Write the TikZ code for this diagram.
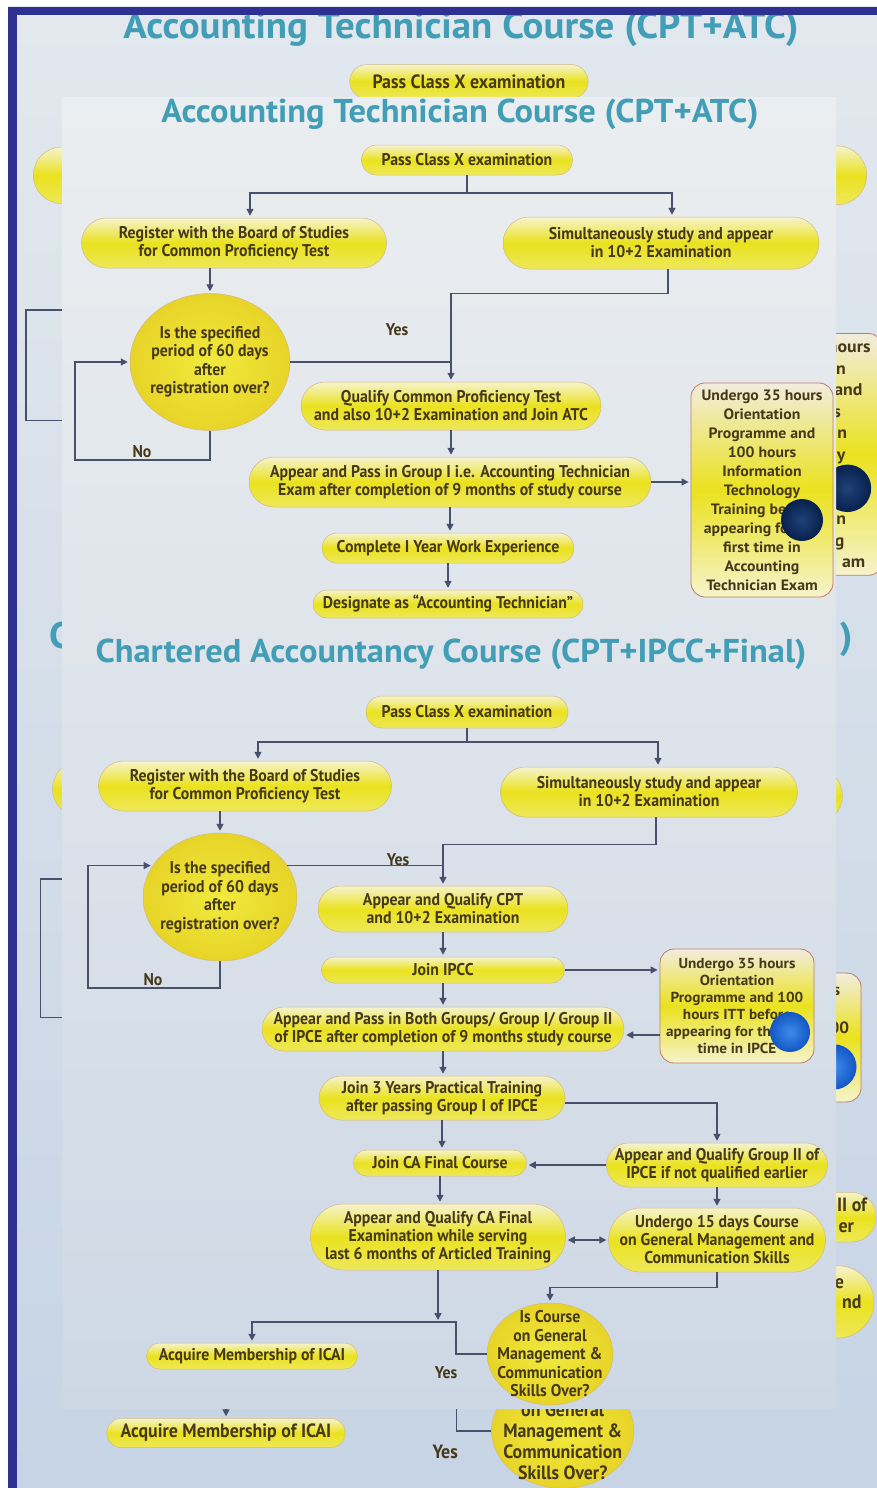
\documentclass[tikz,border=0pt]{standalone}
\usepackage{fontspec}
\setmainfont{PT Sans}
\newfontfamily\condf{PT Sans}[FakeStretch=0.93]
\newfontfamily\ttlf{PT Sans}[FakeStretch=1.045]
\newfontfamily\tallf{PT Sans}[FakeStretch=1.05]
\usetikzlibrary{shapes.misc,shapes.geometric,arrows.meta,calc}
\definecolor{txt}{RGB}{70,56,26}
\definecolor{lin}{RGB}{72,80,108}
\definecolor{ttl}{RGB}{66,158,182}
\definecolor{yel}{RGB}{234,226,30}
\definecolor{yeltop}{RGB}{246,243,205}
\definecolor{yeltoptall}{RGB}{242,236,222}
\definecolor{yelbot}{RGB}{238,232,90}
\definecolor{yelin}{RGB}{240,234,60}
\definecolor{yelout}{RGB}{232,212,40}
\definecolor{rim}{RGB}{210,186,135}
\definecolor{rimtall}{RGB}{190,125,105}
\definecolor{framecol}{RGB}{46,48,146}
\definecolor{bgtop}{RGB}{226,232,238}
\definecolor{bgbot}{RGB}{198,212,229}
\definecolor{pantop}{RGB}{235,238,240}
\definecolor{panbot}{RGB}{206,216,229}
\definecolor{navyin}{RGB}{30,66,120}
\definecolor{navyout}{RGB}{8,32,76}
\definecolor{bluein}{RGB}{60,140,235}
\definecolor{blueout}{RGB}{20,86,196}
\newif\ifbgmode
\makeatletter
\newcommand\hid{\ifbgmode\expandafter\@gobble\else\expandafter\@firstofone\fi}
\makeatother
\newcommand\phbg[1]{\ifbgmode\phantom{#1}\else#1\fi}
\tikzset{
  pill/.style={rounded rectangle, draw=rim, line width=0.5pt, top color=yeltop, bottom color=yelbot, middle color=yel, text=txt, align=center, font=\condf\bfseries\fontsize{17}{18}\selectfont, inner sep=0pt},
  tallbox/.style={rectangle, rounded corners=14pt, draw=rimtall, line width=0.8pt, top color=yeltoptall, bottom color=yeltop, middle color=yel, text=txt, align=center, font=\tallf\bfseries\fontsize{15}{19}\selectfont, inner sep=0pt},
  decide/.style={ellipse, inner sep=-12pt, draw=rim, line width=0.5pt, inner color=yelin, outer color=yelout, text=txt, align=center, font=\condf\bfseries\fontsize{17}{18.5}\selectfont},
  arr/.style={draw=lin, line width=1.4pt, -{Triangle[length=7pt,width=7pt]}, shorten >=2pt},
  dbl/.style={draw=lin, line width=1.4pt, {Triangle[length=7pt,width=7pt]}-{Triangle[length=7pt,width=7pt]}, shorten >=2pt, shorten <=2pt},
  ln/.style={draw=lin, line width=1.4pt},
  lbl/.style={text=txt, font=\condf\bfseries\fontsize{17}{18}\selectfont, inner sep=0pt},
  ttlstyle/.style={text=ttl, font=\ttlf\bfseries\fontsize{33}{36}\selectfont, inner sep=0pt, anchor=base},
  blobnavy/.style={inner color=navyin, outer color=navyout},
  blobblue/.style={inner color=bluein, outer color=blueout},
}
\newcommand\mydiagram{%
\node[ttlstyle] (t1) at (460,122) {Accounting Technician Course (CPT+ATC)};
\node[pill, minimum width=211pt, minimum height=30pt] (a1) at (467,160) {Pass Class X examination};
\node[pill, minimum width=305pt, minimum height=50pt] (a2) at (234,243) {\hid{Register with the Board of Studies\\for Common Proficiency Test}};
\node[pill, minimum width=316pt, minimum height=52pt] (a3) at (661,243) {\hid{Simultaneously study and appear\\in 10+2 Examination}};
\node[decide, minimum width=160pt, minimum height=137pt] (a4) at (210,362) {\hid{Is the specified\\period of 60 days\\after\\registration over?}};
\node[pill, minimum width=300pt, minimum height=48pt] (a5) at (451,406) {\hid{Qualify Common Proficiency Test\\and also 10+2 Examination and Join ATC}};
\node[pill, minimum width=402pt, minimum height=50pt] (a6) at (450,482) {\hid{Appear and Pass in Group I i.e. Accounting Technician\\Exam after completion of 9 months of study course}};
\node[pill, minimum width=252pt, minimum height=30pt] (a7) at (448,548) {\hid{Complete I Year Work Experience}};
\node[pill, minimum width=270pt, minimum height=28pt] (a8) at (448,604) {\hid{Designate as “Accounting Technician”}};
\node[tallbox, minimum width=142pt, minimum height=214pt] (a9) at (762,490) {\phbg{Undergo 35 }hours\\\phbg{Orientatio}n\\\phbg{Programme }and\\\phbg{100 hour}s\\\phbg{Informatio}n\\\phbg{Technolog}y\\\phbg{Training bef}ore\\\phbg{appearing for }the\\\phbg{first time i}n\\\phbg{Accountin}g\\\phbg{Technician Ex}am};
\coordinate (j1) at (467,193);
\draw[ln] (a1.south) -- (j1);
\draw[arr] (j1) -| ([xshift=16pt]a2.north);
\draw[arr] (j1) -| ([xshift=11pt]a3.north);
\draw[arr] (a4.north |- a2.south) -- (a4.north);
\draw[arr] ([xshift=7pt]a3.south) -- ++(0,24) -| (a5.north);
\draw[ln] (a4.east) -- (a4.east -| a5.north);
\node[lbl] (y1) at (397,330) {\hid{Yes}};
\coordinate (n1) at (75,460);
\draw[arr] (a4.south) |- (n1) |- (a4.west);
\node[lbl] (no1) at (142,452) {\hid{No}};
\draw[arr] (a5.south) -- (a5.south |- a6.north);
\draw[arr] (a6.east) -- (a6.east -| a9.west);
\draw[arr] (a6.south) -- (a6.south |- a7.north);
\draw[arr] (a7.south) -- (a7.south |- a8.north);
\shade[blobnavy] (802,520) circle[radius=21pt];
\node[ttlstyle] (t2) at (451,662) {C\phbg{hartered Accountancy Course (CPT+IPCC+Final})};
\node[pill, minimum width=202pt, minimum height=32pt] (b1) at (467,712) {\hid{Pass Class X examination}};
\node[pill, minimum width=293pt, minimum height=50pt] (b2) at (245,786) {\hid{Register with the Board of Studies\\for Common Proficiency Test}};
\node[pill, minimum width=297pt, minimum height=50pt] (b3) at (649,792) {\hid{Simultaneously study and appear\\in 10+2 Examination}};
\node[decide, minimum width=154pt, minimum height=128pt] (b4) at (220,897) {\hid{Is the specified\\period of 60 days\\after\\registration over?}};
\node[pill, minimum width=250pt, minimum height=46pt] (b5) at (443,909) {\hid{Appear and Qualify CPT\\and 10+2 Examination}};
\node[pill, minimum width=243pt, minimum height=26pt] (b6) at (443,970) {\hid{Join IPCC}};
\node[tallbox, minimum width=154pt, minimum height=114pt, font=\tallf\bfseries\fontsize{14.5}{17}\selectfont] (b7) at (737,1006) {\phbg{Undergo 35 hour}s\\\phbg{Orientation}\\\phbg{Programme and 1}00\\\phbg{hours ITT before}\\\phbg{appearing for the first}\\\phbg{time in IPCE}};
\node[pill, minimum width=362pt, minimum height=44pt] (b8) at (443,1029) {\hid{Appear and Pass in Both Groups/ Group I/ Group II\\of IPCE after completion of 9 months study course}};
\node[pill, minimum width=246pt, minimum height=44pt] (b9) at (442,1098) {\hid{Join 3 Years Practical Training\\after passing Group I of IPCE}};
\node[pill, minimum width=173pt, minimum height=26pt] (b10) at (440,1163) {\hid{Join CA Final Course}};
\node[pill, minimum width=221pt, minimum height=44pt] (b11) at (717,1165) {\phbg{Appear and Qualify Group }II of\\\phbg{IPCE if not qualified earli}er};
\node[pill, minimum width=255pt, minimum height=66pt] (b12) at (438,1237) {\hid{Appear and Qualify CA Final\\Examination while serving\\last 6 months of Articled Training}};
\node[pill, minimum width=204pt, minimum height=64pt] (b13) at (717,1240) {\phbg{Undergo 15 days Cours}e\\\phbg{on General Management a}nd\\\phbg{Communication Skills}};
\node[decide, minimum width=126pt, minimum height=102pt] (b14) at (550,1354) {\phbg{Is Course}\\on General\\Management \&\\Communication\\Skills Over?};
\node[pill, minimum width=211pt, minimum height=26pt] (b15) at (252,1356) {Acquire Membership of ICAI};
\coordinate (j2) at (467,742);
\draw[ln] (b1.south) -- (j2);
\draw[arr] (j2) -| ([xshift=13pt]b2.north);
\draw[arr] (j2) -| ([xshift=9pt]b3.north);
\draw[arr] (b4.north |- b2.south) -- (b4.north);
\draw[arr] ([xshift=7pt]b3.south) -- ++(0,27) -| (b5.north);
\draw[ln] (b4.25) -- (b4.25 -| b5.north);
\node[lbl] (y2) at (398,860) {\hid{Yes}};
\coordinate (n2) at (88,988);
\draw[arr] (b4.south) |- (n2) |- (b4.155);
\node[lbl] (no2) at (153,980) {\hid{No}};
\draw[arr] (b5.south) -- (b5.south |- b6.north);
\draw[arr] (b6.east) -- (b6.east -| b7.west);
\coordinate (p1) at ([yshift=-29pt]b7.west);
\draw[arr] (p1) -- (p1 -| b8.east);
\draw[arr] (b6.south) -- (b6.south |- b8.north);
\draw[arr] (b8.south) -- (b8.south |- b9.north);
\draw[arr] ([yshift=-5pt]b9.east) -| (b11.north);
\draw[arr] (b9.south) -- (b9.south |- b10.north);
\draw[arr] (b11.west) -- (b11.west -| b10.east);
\draw[arr] (b10.south) -- (b10.south |- b12.north);
\draw[arr] (b11.south) -- (b11.south |- b13.north);
\draw[dbl] (b12.east |- b13.west) -- (b13.west);
\draw[arr] (b13.south) -- ++(0,15) -| (b14.north);
\coordinate (j3) at (437,1322);
\draw[arr] (b12.south) -- (b12.south |- j3);
\coordinate (j4) at (456,1322);
\draw[arr] (b14.west) -| (j4) -| (b15.north);
\node[lbl] (y3) at (446,1373) {Yes};
\shade[blobblue] (790,1032) circle[radius=20pt];
}
\begin{document}
\begin{tikzpicture}[x=1pt,y=-1pt]
\useasboundingbox (0,0) rectangle (877,1488);
\fill[white] (0,0) rectangle (877,1488);
\shade[top color=bgtop, bottom color=bgbot] (8,7) rectangle (877,1488);
\bgmodetrue
\begin{scope}
\clip (8,7) rectangle (877,1488);
\begin{scope}[shift={(-58.8,-99.3)}, scale=1.13, transform shape]
\mydiagram
\end{scope}
\end{scope}
\bgmodefalse
\shade[top color=pantop, bottom color=panbot] (62,97) rectangle (836,1408);
\begin{scope}
\clip (62,97) rectangle (836,1408);
\mydiagram
\end{scope}
\fill[framecol] (8,7) rectangle (16.5,1488);
\fill[framecol] (8,7) rectangle (877,15);
\end{tikzpicture}
\end{document}
